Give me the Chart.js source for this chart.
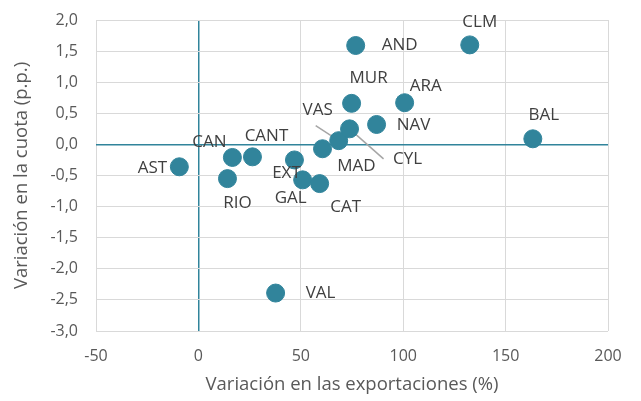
<!DOCTYPE html>
<html>
<head>
<meta charset="utf-8">
<script src="https://cdn.jsdelivr.net/npm/chart.js@4.4.0/dist/chart.umd.min.js"></script>
<style>
	html, body { margin: 0; padding: 0; background: #fff; }
	#scatterChart { display: block; }
</style>
</head>
<body>
<canvas id="scatterChart" width="641" height="401"></canvas>
<script>
// Regions
const regions = ['CLM', 'AND', 'MUR', 'ARA', 'BAL', 'NAV', 'VAS', 'CYL', 'MAD', 'CANT', 'CAN', 'AST', 'EXT', 'RIO', 'GAL', 'CAT', 'VAL'];
// Variación en las exportaciones (%)
const exportChange = [132.5, 76.8, 74.8, 100.7, 163.3, 87, 68.5, 73.8, 60.6, 26.4, 16.6, -9.3, 46.9, 14.2, 50.9, 59.2, 37.7];
// Variación en la cuota (p.p.)
const shareChange = [1.6, 1.59, 0.66, 0.67, 0.09, 0.32, 0.06, 0.25, -0.07, -0.2, -0.21, -0.36, -0.25, -0.55, -0.57, -0.63, -2.39];

// label offsets from the point (px), third entry = leader line end
const labelPos = {
	CLM: [10, -23], AND: [44, 0], MUR: [17, -25], ARA: [21, -17], BAL: [11, -24],
	NAV: [37, 1], VAS: [-21, -31, [-23, -15]], CYL: [58, 30, [34, 30]], MAD: [34, 17],
	CANT: [14, -21], CAN: [-23, -15], AST: [-27, 1], EXT: [-8, 13], RIO: [10, 25],
	GAL: [-12, 18], CAT: [26, 24], VAL: [45, 0],
};

const teal = '#31849B';
const gridGrey = '#D9D9D9';
const textGrey = '#595959';
const fontFamily = '"Open Sans", "Noto Sans", sans-serif';

const labelPlugin = {
	id: 'pointLabels',
	beforeDatasetsDraw(chart) {
		const ctx = chart.ctx;
		const meta = chart.getDatasetMeta(0);
		ctx.save();
		ctx.strokeStyle = '#A6A6A6';
		ctx.lineWidth = 1.5;
		regions.forEach((r, i) => {
			const pos = labelPos[r];
			if (!pos[2]) return;
			const pt = meta.data[i];
			ctx.beginPath();
			ctx.moveTo(pt.x, pt.y);
			ctx.lineTo(pt.x + pos[2][0], pt.y + pos[2][1]);
			ctx.stroke();
		});
		ctx.restore();
	},
	afterDatasetsDraw(chart) {
		const ctx = chart.ctx;
		const meta = chart.getDatasetMeta(0);
		ctx.save();
		ctx.font = '17px ' + fontFamily;
		ctx.fillStyle = '#404040';
		ctx.textAlign = 'center';
		ctx.textBaseline = 'middle';
		regions.forEach((r, i) => {
			const pt = meta.data[i];
			const pos = labelPos[r];
			ctx.fillText(r, pt.x + pos[0], pt.y + pos[1]);
		});
		ctx.restore();
	},
};

const points = exportChange.map((x, i) => ({ x: x, y: shareChange[i] }));

const ctx = document.getElementById('scatterChart').getContext('2d');
const chart = new Chart(ctx, {
	type: 'scatter',
	data: {
		datasets: [
			{
				data: points,
				backgroundColor: teal,
				borderColor: teal,
				pointRadius: 9,
				pointHoverRadius: 9,
			},
		],
	},
	options: {
		responsive: false,
		animation: false,
		devicePixelRatio: 1,
		layout: { padding: { top: 20, right: 33, bottom: 0, left: 0 } },
		plugins: {
			legend: { display: false },
			tooltip: { enabled: false },
		},
		scales: {
			x: {
				type: 'linear',
				min: -50,
				max: 200,
				ticks: {
					stepSize: 50,
					color: textGrey,
					font: { family: fontFamily, size: 16 },
					padding: 16,
					maxRotation: 0,
				},
				grid: {
					color: (c) => (c.tick && c.tick.value === 0 ? teal : gridGrey),
					lineWidth: (c) => (c.tick && c.tick.value === 0 ? 1.5 : 1),
					drawTicks: false,
				},
				border: { display: false },
				title: {
					display: true,
					text: 'Variación en las exportaciones (%)',
					color: textGrey,
					font: { family: fontFamily, size: 18.5 },
					padding: { top: 4, bottom: 5 },
				},
				afterFit: (s) => { s.height = 70; },
			},
			y: {
				type: 'linear',
				min: -3,
				max: 2,
				ticks: {
					stepSize: 0.5,
					color: textGrey,
					font: { family: fontFamily, size: 16 },
					padding: 18,
					callback: (v) => v.toFixed(1).replace('.', ','),
				},
				grid: {
					color: (c) => (c.tick && c.tick.value === 0 ? teal : gridGrey),
					lineWidth: (c) => (c.tick && c.tick.value === 0 ? 1.5 : 1),
					drawTicks: false,
				},
				border: { display: false },
				title: {
					display: true,
					text: 'Variación en la cuota (p.p.)',
					color: textGrey,
					font: { family: fontFamily, size: 18.5 },
					padding: { top: 11, bottom: 2 },
				},
				afterFit: (s) => {
					s.width = 96;
					s.paddingTop = 0;
					s.paddingBottom = 0;
				},
			},
		},
	},
	plugins: [labelPlugin],
});
</script>
</body>
</html>
